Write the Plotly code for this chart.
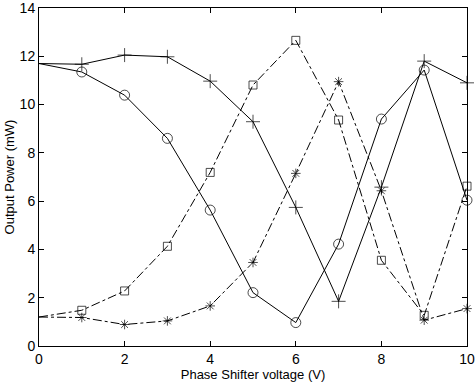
import plotly.graph_objects as go

x = [0, 1, 2, 3, 4, 5, 6, 7, 8, 9, 10]
plus_vals = [11.7, 11.67, 12.05, 11.98, 10.97, 9.29, 5.74, 1.85, 6.58, 11.8, 10.9]
circle_vals = [11.7, 11.35, 10.39, 8.6, 5.63, 2.21, 0.97, 4.22, 9.4, 11.43, 6.04]
square_vals = [1.2, 1.48, 2.28, 4.13, 7.19, 10.81, 12.66, 9.36, 3.55, 1.27, 6.62]
star_vals = [1.2, 1.18, 0.89, 1.04, 1.66, 3.46, 7.15, 10.95, 6.43, 1.07, 1.55]

x_ticks = [0, 2, 4, 6, 8, 10]
y_ticks = [0, 2, 4, 6, 8, 10, 12, 14]

fig = go.Figure()

def add(vals, symbol, size, dash):
    sizes = [0] + [size] * (len(vals) - 1)
    fig.add_trace(go.Scatter(
        x=x, y=vals, mode="lines+markers",
        line=dict(color="black", width=1, dash=dash),
        marker=dict(symbol=symbol, size=sizes, color="black",
                    line=dict(color="black", width=1)),
        showlegend=False, cliponaxis=False,
    ))

add(plus_vals, "cross-thin-open", 10, "solid")
add(circle_vals, "circle-open", 10, "solid")
add(square_vals, "square-open", 8, "dashdot")
add(star_vals, "asterisk-open", 8, "dashdot")

FONT = "Liberation Sans, Arial, Helvetica"
axis_common = dict(
    showline=True, linecolor="black", linewidth=1, mirror="ticks",
    ticks="inside", ticklen=5, tickcolor="black", tickwidth=1,
    showgrid=False, zeroline=False, automargin=False,
    ticklabeloverflow="allow",
    tickfont=dict(family=FONT, size=14, color="black"),
)

fig.update_layout(
    width=475, height=383,
    margin=dict(l=39, r=8, t=8, b=37, autoexpand=False),
    paper_bgcolor="white", plot_bgcolor="white",
    xaxis=dict(range=[0, 10], tickvals=x_ticks,
               title=dict(text="Phase Shifter voltage (V)", standoff=2,
                          font=dict(family=FONT, size=13, color="black")),
               **axis_common),
    yaxis=dict(range=[0, 14], tickvals=y_ticks,
               title=dict(text="Output Power (mW)", standoff=2,
                          font=dict(family=FONT, size=13, color="black")),
               **axis_common),
)

fig.write_html("out.html")
